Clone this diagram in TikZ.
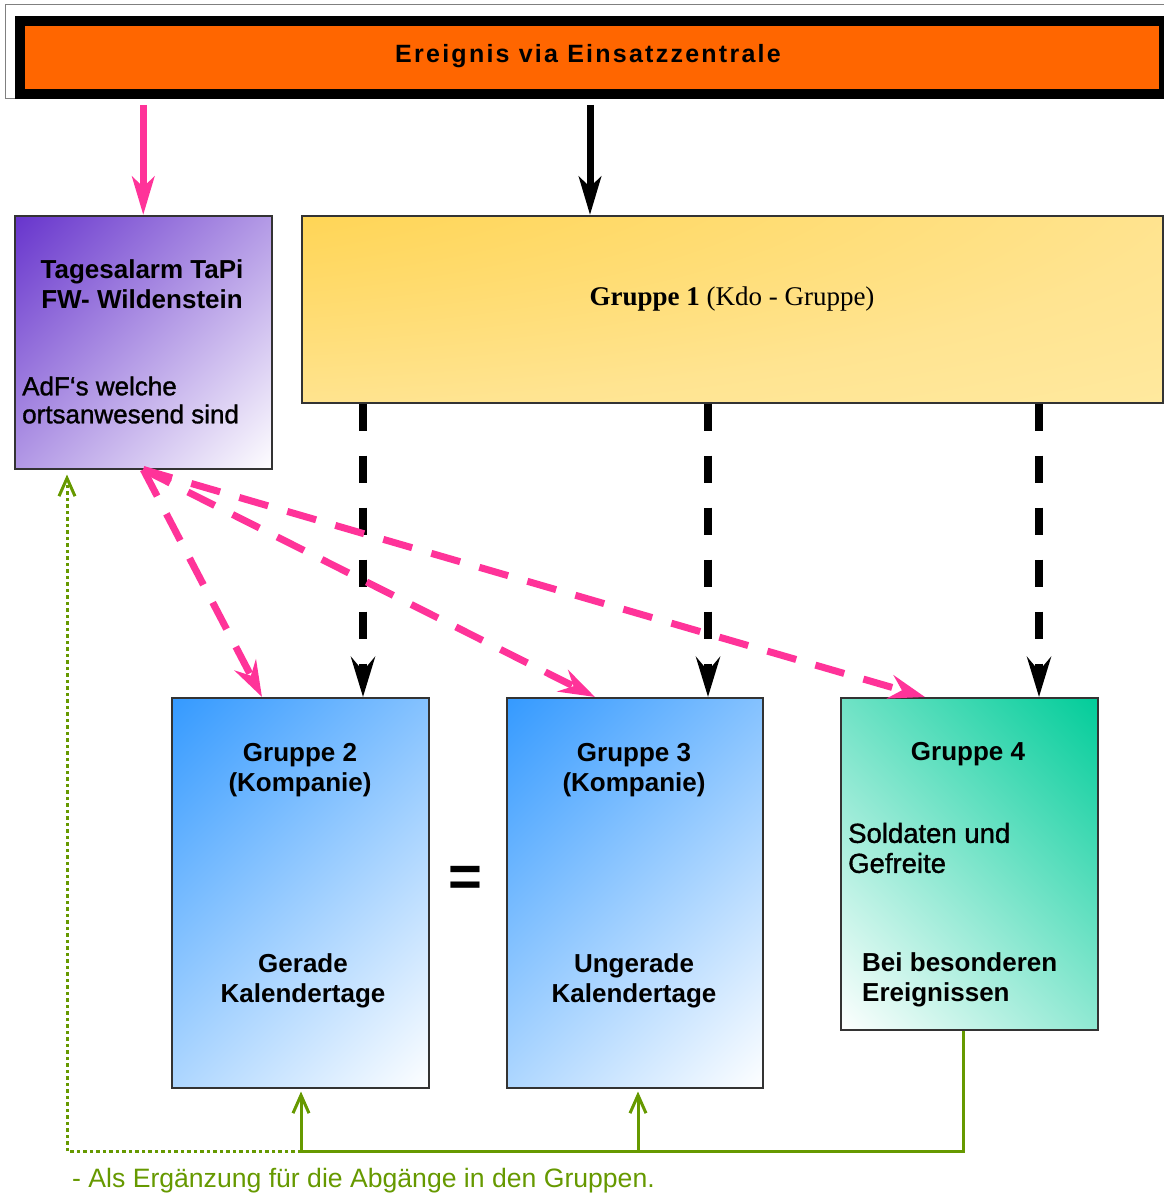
\documentclass[tikz,border=0pt]{standalone}
\usepackage{fontspec}
\setmainfont{Liberation Sans}
\newfontfamily\kdofont{Liberation Serif}
\newfontfamily\halbfett[FakeBold=1.2]{Liberation Sans}
\usetikzlibrary{arrows.meta}

\definecolor{einsatzorange}{RGB}{255,102,0}
\definecolor{alarmpink}{RGB}{255,51,153}
\definecolor{ergaenzgruen}{RGB}{102,153,0}
\definecolor{tapilila}{RGB}{102,51,204}
\definecolor{kompblau}{RGB}{51,153,255}
\definecolor{soldgruen}{RGB}{0,204,153}
\definecolor{rahmengrau}{RGB}{51,51,51}
\definecolor{kdogold}{RGB}{255,204,0}
\definecolor{kdomitte}{RGB}{255,214,90}
\definecolor{kdohell}{RGB}{255,228,145}
\definecolor{kdocreme}{RGB}{255,238,172}

\pgfdeclareradialshading{kdoglow}{\pgfpoint{-50bp}{50bp}}{%
  color(0bp)=(kdogold); color(28bp)=(kdomitte); color(62bp)=(kdohell);
  color(95bp)=(kdocreme); color(200bp)=(kdocreme)}
\pgfdeclareverticalshading{tapiverlauf}{100bp}{color(0bp)=(white); color(14bp)=(white); color(86bp)=(tapilila); color(100bp)=(tapilila)}
\pgfdeclareverticalshading{kompverlauf}{100bp}{color(0bp)=(white); color(14bp)=(white); color(86bp)=(kompblau); color(100bp)=(kompblau)}
\pgfdeclareverticalshading{soldverlauf}{100bp}{color(0bp)=(white); color(14bp)=(white); color(86bp)=(soldgruen); color(100bp)=(soldgruen)}

\begin{document}
\begin{tikzpicture}[x=1pt,y=-1pt,
  kasten/.style={draw=rahmengrau, line width=1.5pt, anchor=north west, inner sep=0pt, shade},
  fett/.style={font=\bfseries\fontsize{26}{30}\selectfont, align=center, inner sep=0pt},
  normal/.style={font=\halbfett\fontsize{26}{28}\selectfont, align=left, inner sep=0pt},
  pfeil/.style={line width=7pt, shorten <=6pt, -{Stealth[length=38pt,width=22pt,inset=10pt]}},
  kdopfeil/.style={line width=8.5pt, dash pattern=on 27pt off 25pt, -{Stealth[length=40pt,width=24pt,inset=14pt]}},
  tapipfeil/.style={alarmpink, line width=7pt, dash pattern=on 30pt off 20pt, -{Stealth[length=36pt,width=24pt,inset=12pt]}},
  ergaenz/.style={ergaenzgruen, line width=3pt},
  ergaenzpfeil/.style={ergaenz, shorten >=3pt, -{Straight Barb[length=18pt,width=16pt]}}]
\useasboundingbox (0,0) rectangle (1163,1193);
% Kopfzeile
\draw[gray, line width=1pt] (5,5) rectangle (1180,99);
\node[draw=black, line width=10pt, fill=einsatzorange, anchor=north west, inner sep=0pt, minimum width=1144pt, minimum height=72.5pt] (ereignis) at (14.5,16.5) {};
\node[font=\bfseries\fontsize{25}{30}\selectfont\addfontfeature{LetterSpace=9}, anchor=base, inner sep=0pt] (ereignistext) at (588,63) {Ereignis via Einsatzzentrale};
% Kaesten
\node[kasten, minimum width=257pt, minimum height=253pt, shading=tapiverlauf, shading angle=45] (tapi) at (14,215) {};
\node[kasten, minimum width=861pt, minimum height=187pt, shading=kdoglow] (g1) at (301,215) {};
\node[kasten, minimum width=257pt, minimum height=390pt, shading=kompverlauf, shading angle=45] (g2) at (171,697) {};
\node[kasten, minimum width=256pt, minimum height=390pt, shading=kompverlauf, shading angle=45] (g3) at (506,697) {};
\node[kasten, minimum width=257pt, minimum height=332pt, shading=soldverlauf, shading angle=-45] (g4) at (840,697) {};
% Texte
\node[fett] (tapititel) at (142,284) {Tagesalarm TaPi\\FW- Wildenstein};
\node[normal, anchor=west] (tapitext) at (22,400) {AdF‘s welche\\ortsanwesend sind};
\node[font=\kdofont\fontsize{27}{30}\selectfont, anchor=base, inner sep=0pt] (g1text) at (732,305) {\textbf{Gruppe 1} (Kdo - Gruppe)};
\node[fett] (g2titel) at (300,770) {Gruppe 2\\(Kompanie)};
\node[fett] (g2text) at (303,981) {Gerade\\Kalendertage};
\node[fett] (g3titel) at (634,770) {Gruppe 3\\(Kompanie)};
\node[fett] (g3text) at (634,981) {Ungerade\\Kalendertage};
\node[fett] (g4titel) at (968,754) {Gruppe 4};
\node[normal, font=\halbfett\fontsize{27.5}{30}\selectfont, anchor=west] (g4text) at (848,848) {Soldaten und\\Gefreite};
\node[fett, align=left, anchor=west] (g4anlass) at (862,980) {Bei besonderen\\Ereignissen};
\node[font=\bfseries\fontsize{58}{58}\selectfont, inner sep=0pt] (gleich) at (465,881) {=};
\node[font=\fontsize{26.6}{30}\selectfont, text=ergaenzgruen, anchor=base west, inner sep=0pt] (hinweis) at (72,1187) {- Als Ergänzung für die Abgänge in den Gruppen.};
% Pfeile
\draw[pfeil, alarmpink] (tapi.north |- ereignis.south) -- (tapi.north);
\coordinate (kdoein) at ([xshift=289pt]g1.north west);
\draw[pfeil] (kdoein |- ereignis.south) -- (kdoein);
\foreach \g/\dx in {g2/192,g3/202,g4/199}{
  \coordinate (ein\g) at ([xshift=\dx pt]\g.north west);
  \draw[kdopfeil] (ein\g |- g1.south) -- (ein\g);
}
\foreach \g/\dx in {g2/91,g3/89,g4/85}{
  \coordinate (tapi\g) at ([xshift=\dx pt]\g.north west);
  \draw[tapipfeil] (tapi.south) -- (tapi\g);
}
\coordinate (sammel) at (301,1151);
\coordinate (g3ziel) at ([xshift=132pt]g3.south west);
\coordinate (g4aus) at ([xshift=123pt]g4.south west);
\coordinate (tapiziel) at ([xshift=53pt]tapi.south west);
\draw[ergaenz] (g4aus) |- (sammel);
\draw[ergaenzpfeil] (sammel) -- (sammel |- g2.south);
\draw[ergaenzpfeil] (g3ziel |- sammel) -- (g3ziel);
\draw[ergaenz, dash pattern=on 3.5pt off 3pt, shorten >=5pt, -{Straight Barb[length=18pt,width=16pt]}] (sammel) -| (tapiziel);
\end{tikzpicture}
\end{document}
